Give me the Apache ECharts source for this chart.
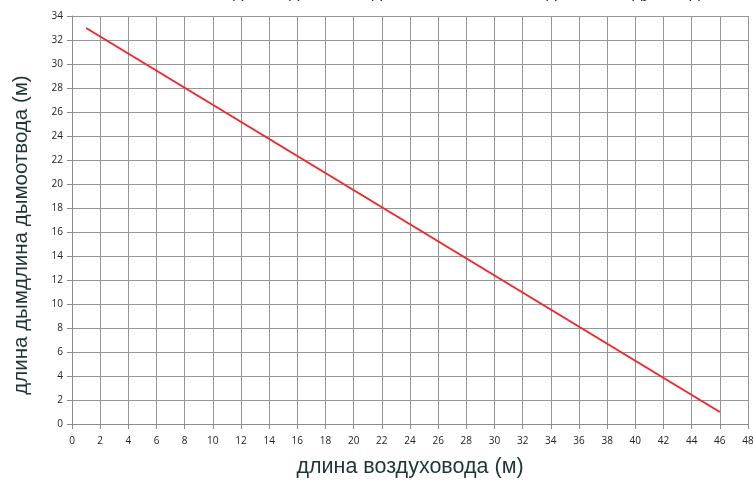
<!DOCTYPE html>
<html>
<head>
<meta charset="utf-8">
<script src="https://cdn.jsdelivr.net/npm/echarts@6/dist/echarts.min.js"></script>
<style>
html, body { margin: 0; padding: 0; background: #fff; }
#chart { width: 753px; height: 483px; }
</style>
</head>
<body>
<div id="chart"></div>
<script>
// данные графика
var airDuct = [1, 46];      // длина воздуховода (м)
var chimney = [33, 1];      // длина дымоотвода (м)
var xTicks = { min: 0, max: 48, step: 2 };
var yTicks = { min: 0, max: 34, step: 2 };

var chart = echarts.init(document.getElementById('chart'));

var points = airDuct.map(function (x, i) { return [x, chimney[i]]; });

var tickLabel = { fontFamily: 'Open Sans', fontSize: 10, color: '#222' };

chart.setOption({
    animation: false,
    title: {
        text: 'длина дымоотвода в зависимости от длины воздуховода',
        left: 228,
        top: -22,
        textStyle: { fontFamily: 'Liberation Sans', fontSize: 18, fontWeight: 'normal', color: '#1d3535' }
    },
    grid: { left: 72, right: 5, top: 16, bottom: 59, outerBoundsMode: 'none' },
    xAxis: {
        type: 'value',
        min: xTicks.min, max: xTicks.max, interval: xTicks.step,
        name: 'длина воздуховода (м)',
        nameLocation: 'middle',
        nameGap: 32,
        nameTextStyle: { fontFamily: 'Liberation Sans', fontSize: 21.5, color: '#1d3535' },
        axisLine: { lineStyle: { color: '#8c8c8c' } },
        axisTick: { show: true, length: 5, lineStyle: { color: '#8c8c8c' } },
        axisLabel: Object.assign({ margin: 12 }, tickLabel),
        splitLine: { show: true, lineStyle: { color: '#969696', width: 1 } }
    },
    yAxis: {
        type: 'value',
        min: yTicks.min, max: yTicks.max, interval: yTicks.step,
        name: 'длина дымдлина дымоотвода (м)',
        nameLocation: 'middle',
        nameGap: 40,
        nameTextStyle: { fontFamily: 'Liberation Sans', fontSize: 20.5, color: '#1d3535', padding: [0, 30, 0, 0] },
        axisLine: { show: true, lineStyle: { color: '#8c8c8c' } },
        axisTick: { show: true, length: 5, lineStyle: { color: '#8c8c8c' } },
        axisLabel: Object.assign({ margin: 9 }, tickLabel),
        splitLine: { show: true, lineStyle: { color: '#969696', width: 1 } }
    },
    series: [{
        type: 'line',
        data: points,
        symbol: 'none',
        lineStyle: { color: '#f0262a', width: 2 }
    }]
});
</script>
</body>
</html>
